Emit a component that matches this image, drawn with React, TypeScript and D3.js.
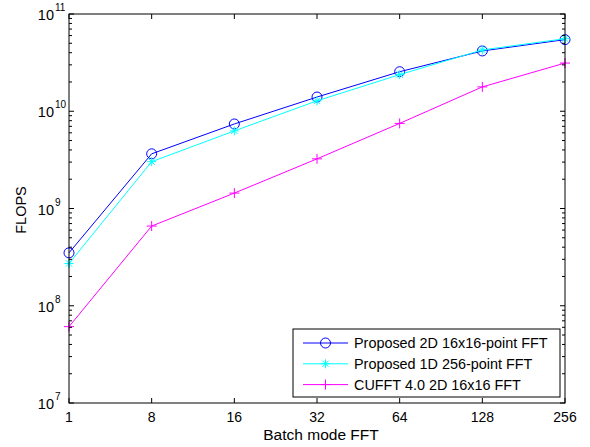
import React from 'react';
import * as d3 from 'd3';

// batch sizes (categorical x axis)
const batches = ['1', '8', '16', '32', '64', '128', '256'];

// FLOPS per series
const proposed2D = [3.5e8, 3.65e9, 7.4e9, 1.4e10, 2.55e10, 4.17e10, 5.45e10];
const proposed1D = [2.72e8, 3.03e9, 6.28e9, 1.28e10, 2.38e10, 4.27e10, 5.57e10];
const cufft = [6.1e7, 6.6e8, 1.44e9, 3.24e9, 7.5e9, 1.78e10, 3.13e10];

const seriesNames = ['Proposed 2D 16x16-point FFT', 'Proposed 1D 256-point FFT', 'CUFFT 4.0 2D 16x16 FFT'];
const yExponents = [7, 8, 9, 10, 11];

const W = 590, H = 447;
const left = 69, right = 565, top = 14, bottom = 403;
const font = '"Liberation Sans", Arial, sans-serif';

const x = d3.scalePoint<string>().domain(batches).range([left, right]);
const y = d3.scaleLog().domain([1e7, 1e11]).range([bottom, top]);

const Marker = ({ kind, cx, cy, color }: { kind: string; cx: number; cy: number; color: string }) => {
    if (kind === 'circle') {
        return <circle cx={cx} cy={cy} r={5} fill="none" stroke={color} strokeWidth={1} />;
    }
    if (kind === 'star') {
        const r = 4.5;
        const d = `M${cx - r},${cy}H${cx + r}M${cx},${cy - r}V${cy + r}` +
            `M${cx - r * 0.7},${cy - r * 0.7}L${cx + r * 0.7},${cy + r * 0.7}` +
            `M${cx - r * 0.7},${cy + r * 0.7}L${cx + r * 0.7},${cy - r * 0.7}`;
        return <path d={d} stroke={color} strokeWidth={1} fill="none" />;
    }
    const r = 5;
    return <path d={`M${cx - r},${cy}H${cx + r}M${cx},${cy - r}V${cy + r}`} stroke={color} strokeWidth={1} fill="none" />;
};

const series = [
    { name: seriesNames[0], values: proposed2D, color: '#0000ff', marker: 'circle' },
    { name: seriesNames[1], values: proposed1D, color: '#00ffff', marker: 'star' },
    { name: seriesNames[2], values: cufft, color: '#ff00ff', marker: 'plus' },
];

export default function App() {
    const line = d3.line<number>()
        .x((_, i) => x(batches[i]) as number)
        .y((d) => y(d));

    // minor ticks for the log axis
    const minor: number[] = [];
    for (let e = 7; e < 11; e++) {
        for (let m = 2; m <= 9; m++) minor.push(m * Math.pow(10, e));
    }

    const legX = 293, legY = 329, legW = 267, legH = 68;

    return (
        <svg width={W} height={H} style={{ position: 'absolute', left: 0, top: 0, background: '#fff' }} fontFamily={font}>
            <rect x={0} y={0} width={W} height={H} fill="#fff" />

            {/* series */}
            {series.map((s) => (
                <g key={s.name}>
                    <path d={line(s.values) || ''} fill="none" stroke={s.color} strokeWidth={1} />
                    {s.values.map((v, i) => (
                        <Marker key={i} kind={s.marker} cx={x(batches[i]) as number} cy={y(v)} color={s.color} />
                    ))}
                </g>
            ))}

            {/* axes box */}
            <rect x={left} y={top} width={right - left} height={bottom - top} fill="none" stroke="#000" strokeWidth={1} />

            {/* y ticks */}
            {yExponents.map((e) => {
                const ty = y(Math.pow(10, e));
                return (
                    <g key={e}>
                        <line x1={left} x2={left + 5} y1={ty} y2={ty} stroke="#000" />
                        <line x1={right} x2={right - 5} y1={ty} y2={ty} stroke="#000" />
                        <text x={54} y={ty + 6} fontSize={14.5} textAnchor="end" fill="#000">10</text>
                        <text x={55} y={ty - 3} fontSize={10} fill="#000">{e}</text>
                    </g>
                );
            })}
            {minor.map((v) => (
                <g key={v}>
                    <line x1={left} x2={left + 3} y1={y(v)} y2={y(v)} stroke="#000" />
                    <line x1={right} x2={right - 3} y1={y(v)} y2={y(v)} stroke="#000" />
                </g>
            ))}

            {/* x ticks */}
            {batches.map((b) => {
                const tx = x(b) as number;
                return (
                    <g key={b}>
                        <line x1={tx} x2={tx} y1={bottom} y2={bottom - 5} stroke="#000" />
                        <line x1={tx} x2={tx} y1={top} y2={top + 5} stroke="#000" />
                        <text x={tx} y={422} fontSize={14} textAnchor="middle" fill="#000">{b}</text>
                    </g>
                );
            })}

            {/* axis labels */}
            <text x={321} y={440} fontSize={15.5} textAnchor="middle" fill="#000">Batch mode FFT</text>
            <text transform={`translate(26,210) rotate(-90)`} fontSize={14.5} textAnchor="middle" fill="#000">FLOPS</text>

            {/* legend */}
            <rect x={legX} y={legY} width={legW} height={legH} fill="#fff" stroke="#000" strokeWidth={1} />
            {series.map((s, i) => {
                const ly = legY + 14 + i * 20.8;
                return (
                    <g key={s.name}>
                        <line x1={303} x2={348} y1={ly} y2={ly} stroke={s.color} strokeWidth={1} />
                        <Marker kind={s.marker} cx={325.5} cy={ly} color={s.color} />
                        <text x={354} y={ly + 5} fontSize={14.4} fill="#000">{s.name}</text>
                    </g>
                );
            })}
        </svg>
    );
}
